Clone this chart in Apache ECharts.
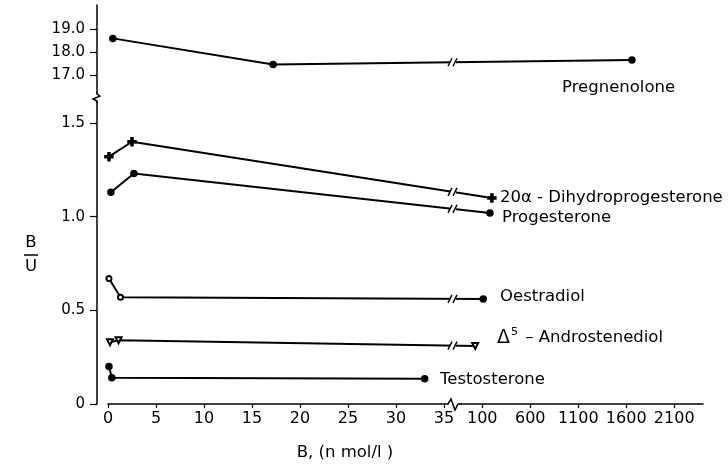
<!DOCTYPE html>
<html><head><meta charset="utf-8">
<script src="https://cdn.jsdelivr.net/npm/echarts@6/dist/echarts.min.js"></script>
<style>html,body{margin:0;padding:0;background:#fff}#c{width:728px;height:466px}</style>
</head><body><div id="c"></div>
<script>
// ---- data ----
const xTickLabels = [0, 5, 10, 15, 20, 25, 30, 35, 100, 600, 1100, 1600, 2100];
const yTopTicks = [17, 18, 19];
const yBottomTicks = [0, 0.5, 1.0, 1.5];

const pregX = [0.5, 17.2, 1660];
const pregY = [18.59, 17.47, 17.66];
const dihydroX = [0.1, 2.5, 200];
const dihydroY = [1.32, 1.40, 1.10];
const progX = [0.3, 2.7, 180];
const progY = [1.13, 1.23, 1.02];
const oestX = [0.1, 1.3, 110];
const oestY = [0.67, 0.57, 0.56];
const androX = [0.2, 1.1, 88];
const androY = [0.33, 0.34, 0.31];
const testoX = [0.1, 0.4, 33];
const testoY = [0.20, 0.14, 0.135];

// ---- broken x scale: 0-35 linear, 35-100 compressed, 100+ at 1/100 ----
function mapX(x) {
  if (x <= 35) return x;
  if (x <= 100) return 35 + (x - 35) * 4 / 65;
  return 39 + (x - 100) / 100;
}
const BREAK_X = 35.95;
const FONT = 'DejaVu Sans';
const tickMapped = xTickLabels.map(mapX);
function pts(xs, ys) { return xs.map((x, i) => [mapX(x), ys[i]]); }
// last point drawn as a filled dot
function ptsFilledEnd(xs, ys) {
  return pts(xs, ys).map((v, i, a) => i === a.length - 1
    ? {value: v, symbol: 'circle', symbolSize: 6, itemStyle: {color: '#000'}} : v);
}

const plusPath = 'path://M3,0 L5,0 L5,3 L8,3 L8,5 L5,5 L5,8 L3,8 L3,5 L0,5 L0,3 L3,3 Z';

const chart = echarts.init(document.getElementById('c'), null, {renderer: 'canvas'});

function xAxisCfg(idx, show) {
  return {
    type: 'value', gridIndex: idx, min: 0, max: 62, show: show,
    axisLine: {show: true, onZero: false, lineStyle: {color: '#000', width: 1.5}},
    axisTick: {show: true, length: 4, customValues: tickMapped, lineStyle: {color: '#000', width: 1.2}},
    splitLine: {show: false},
    axisLabel: {
      customValues: tickMapped, margin: 7, color: '#000', fontFamily: FONT, fontSize: 16,
      formatter: function (v) {
        let best = 0, bd = 1e9;
        tickMapped.forEach((m, i) => { const d = Math.abs(m - v); if (d < bd) { bd = d; best = i; } });
        return String(xTickLabels[best]);
      }
    }
  };
}
function yAxisCfg(idx, min, max, ticks, fmt) {
  return {
    type: 'value', gridIndex: idx, min: min, max: max, offset: 11,
    axisLine: {show: true, onZero: false, lineStyle: {color: '#000', width: 1.5}},
    axisTick: {show: true, length: 7, customValues: ticks, lineStyle: {color: '#000', width: 1.2}},
    splitLine: {show: false},
    axisLabel: {customValues: ticks, margin: 12, color: '#000', fontFamily: FONT, fontSize: 15, formatter: fmt}
  };
}

function lineSeries(name, xi, data, symbol, size, extra) {
  return Object.assign({
    name: name, type: 'line', xAxisIndex: xi, yAxisIndex: xi, data: data,
    symbol: symbol, symbolSize: size, showAllSymbol: true,
    lineStyle: {color: '#000', width: 2},
    itemStyle: {color: '#000', borderColor: '#000', borderWidth: 1.5},
    animation: false, z: 3
  }, extra || {});
}

const option = {
  backgroundColor: '#fff',
  animation: false,
  grid: [
    {left: 108, right: 25, top: 5, height: 88},
    {left: 108, right: 25, top: 102, bottom: 62}
  ],
  xAxis: [xAxisCfg(0, false), xAxisCfg(1, true)],
  yAxis: [
    yAxisCfg(0, 16.25, 20.02, yTopTicks, v => v.toFixed(1)),
    yAxisCfg(1, 0, 1.612, yBottomTicks, v => (v === 0 ? '0' : v.toFixed(1)))
  ],
  series: [
    lineSeries('Pregnenolone', 0, pts(pregX, pregY), 'circle', 6),
    lineSeries('20α - Dihydroprogesterone', 1, pts(dihydroX, dihydroY), plusPath, 8),
    lineSeries('Progesterone', 1, pts(progX, progY), 'circle', 6),
    lineSeries('Oestradiol', 1, ptsFilledEnd(oestX, oestY), 'emptyCircle', 5),
    lineSeries('Androstenediol', 1, pts(androX, androY), 'emptyTriangle', 6, {symbolRotate: 180}),
    lineSeries('Testosterone', 1, pts(testoX, testoY), 'circle', 6)
  ]
};
chart.setOption(option);

// ---- decorations: series names, axis title, axis breaks, line breaks ----
const LBL = '16.5px "' + FONT + '"';
const txt = (x, y, s, align) => ({
  type: 'text', x: x, y: y, z: 10,
  style: {text: s, fill: '#000', font: LBL, textAlign: align || 'left', textVerticalAlign: 'middle'}
});

const g = [];
g.push(txt(562, 88, 'Pregnenolone'));
g.push(txt(500, 198, '20α - Dihydroprogesterone'));
g.push(txt(502, 218, 'Progesterone'));
g.push(txt(500, 297, 'Oestradiol'));
g.push({type: 'text', x: 497, y: 338, z: 10, style: {
  text: '{d|Δ}{s|5}{t| – Androstenediol}', textVerticalAlign: 'middle',
  rich: {
    d: {fontFamily: FONT, fontSize: 19, fill: '#000'},
    s: {fontFamily: FONT, fontSize: 11, fill: '#000', verticalAlign: 'top', padding: [0, 2, 12, 1]},
    t: {fontFamily: FONT, fontSize: 16.5, fill: '#000'}
  }}});
g.push(txt(440, 380, 'Testosterone'));
g.push(txt(345, 453, 'B, (n mol/l )', 'center'));

// B/U fraction label
g.push(txt(31, 243, 'B', 'center'));
g.push({type: 'line', z: 10, shape: {x1: 24, y1: 255, x2: 38, y2: 255}, style: {stroke: '#000', lineWidth: 1.5}});
g.push(txt(31, 267, 'U', 'center'));

// y-axis break zigzag
const yAxisX = 97;
g.push({type: 'polyline', z: 10, shape: {points: [[yAxisX, 92], [yAxisX, 94], [yAxisX + 3, 96], [yAxisX - 4, 99], [yAxisX, 101], [yAxisX, 103]]},
  style: {stroke: '#000', lineWidth: 1.5, fill: null}});

// x-axis break zigzag
const axY = chart.convertToPixel({xAxisIndex: 1, yAxisIndex: 1}, [0, 0])[1];
const bx = chart.convertToPixel({xAxisIndex: 1, yAxisIndex: 1}, [BREAK_X, 0])[0];
g.push({type: 'rect', z: 9, shape: {x: bx - 8, y: axY - 2, width: 16, height: 4}, style: {fill: '#fff'}});
g.push({type: 'polyline', z: 10, shape: {points: [[bx - 9, axY], [bx - 5, axY], [bx - 2, axY - 5], [bx + 2, axY + 6], [bx + 5, axY], [bx + 9, axY]]},
  style: {stroke: '#000', lineWidth: 1.5, fill: null}});

// line-break marks '//' on series crossing the break
const breakSeries = [[0, pregX, pregY], [1, dihydroX, dihydroY], [1, progX, progY], [1, oestX, oestY], [1, androX, androY]];
breakSeries.forEach(([gi, xs, ys]) => {
  const p = xs.map((x, i) => chart.convertToPixel({xAxisIndex: gi, yAxisIndex: gi}, [mapX(x), ys[i]]));
  for (let i = 0; i < p.length - 1; i++) {
    if (p[i][0] <= bx && p[i + 1][0] >= bx) {
      const t = (bx - p[i][0]) / (p[i + 1][0] - p[i][0]);
      const y = p[i][1] + t * (p[i + 1][1] - p[i][1]);
      g.push({type: 'rect', z: 9, shape: {x: bx - 3, y: y - 3, width: 6, height: 6}, style: {fill: '#fff'}});
      [-3, 2].forEach(dx => g.push({type: 'line', z: 10,
        shape: {x1: bx + dx - 2, y1: y + 4, x2: bx + dx + 2, y2: y - 4}, style: {stroke: '#000', lineWidth: 1.4}}));
    }
  }
});
chart.setOption({graphic: g});
</script></body></html>
